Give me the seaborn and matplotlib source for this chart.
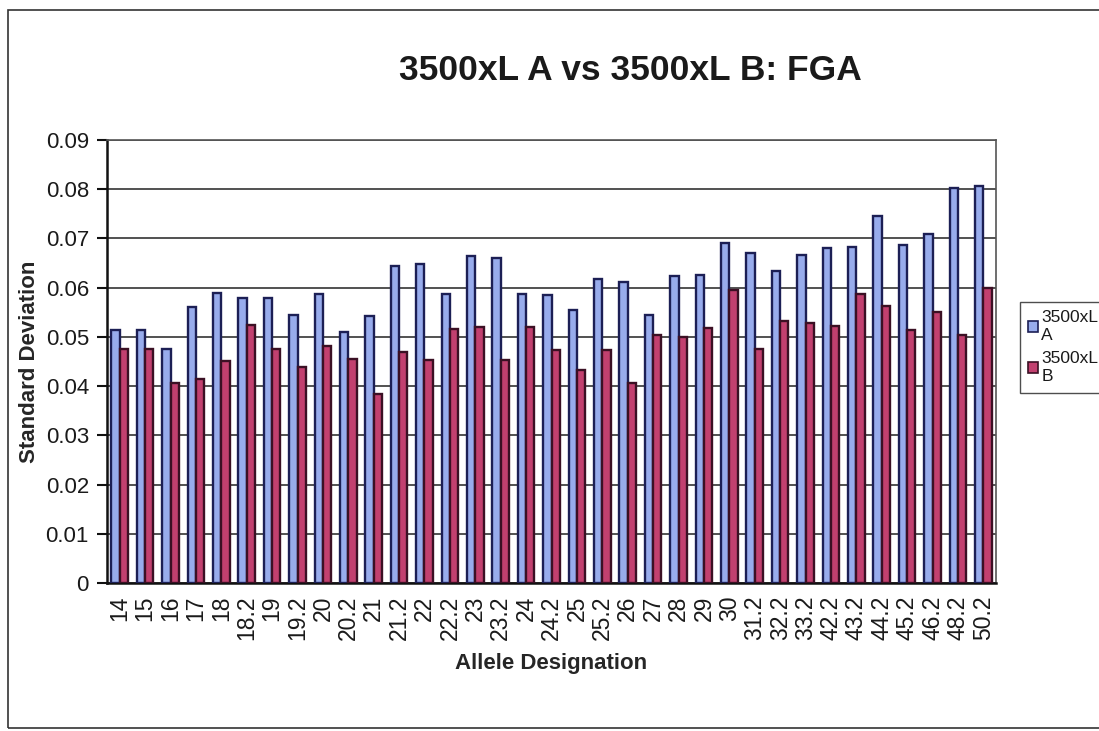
import matplotlib
matplotlib.use("Agg")
import matplotlib.pyplot as plt
import matplotlib.patches as mpatches
import numpy as np
import pandas as pd
import seaborn as sns

# Allele designations (FGA locus)
alleles = ["14", "15", "16", "17", "18", "18.2", "19", "19.2", "20", "20.2",
           "21", "21.2", "22", "22.2", "23", "23.2", "24", "24.2", "25", "25.2",
           "26", "27", "28", "29", "30", "31.2", "32.2", "33.2", "42.2", "43.2",
           "44.2", "45.2", "46.2", "48.2", "50.2"]

# Standard deviation per allele, instrument A
sd_a = [0.0513, 0.0513, 0.0475, 0.0561, 0.0590, 0.0580, 0.0580, 0.0545, 0.0588, 0.0509,
        0.0542, 0.0645, 0.0648, 0.0588, 0.0664, 0.0661, 0.0588, 0.0586, 0.0554, 0.0617,
        0.0612, 0.0544, 0.0623, 0.0625, 0.0691, 0.0671, 0.0633, 0.0666, 0.0680, 0.0682,
        0.0746, 0.0686, 0.0710, 0.0802, 0.0807]

# Standard deviation per allele, instrument B
sd_b = [0.0476, 0.0476, 0.0406, 0.0415, 0.0452, 0.0525, 0.0475, 0.0438, 0.0481, 0.0456,
        0.0384, 0.0469, 0.0454, 0.0517, 0.0520, 0.0454, 0.0520, 0.0474, 0.0433, 0.0474,
        0.0406, 0.0503, 0.0500, 0.0518, 0.0596, 0.0475, 0.0532, 0.0529, 0.0522, 0.0588,
        0.0562, 0.0514, 0.0550, 0.0504, 0.0600]

series_names = ["3500xL A", "3500xL B"]
legend_labels = ["3500xL\nA", "3500xL\nB"]
y_ticks = [0, 0.01, 0.02, 0.03, 0.04, 0.05, 0.06, 0.07, 0.08, 0.09]
y_tick_labels = ["0", "0.01", "0.02", "0.03", "0.04", "0.05", "0.06", "0.07", "0.08", "0.09"]

df = pd.DataFrame({
    "Allele": alleles * 2,
    "SD": sd_a + sd_b,
    "Instrument": [series_names[0]] * len(alleles) + [series_names[1]] * len(alleles),
})

sns.set_style("white")
plt.rcParams["font.family"] = ["Liberation Sans", "DejaVu Sans"]
plt.rcParams["text.color"] = "#1a1a1a"

fill_colors = {series_names[0]: "#98ACEC", series_names[1]: "#C2406F"}
edge_colors = ["#1C1F55", "#3B1024"]

fig = plt.figure(figsize=(10.99, 7.31), dpi=100)
fig.patch.set_facecolor("white")

# outer chart-area frame
fig.add_artist(mpatches.Rectangle((8 / 1099, 3 / 731), 1.2, 1 - 13 / 731,
                                  transform=fig.transFigure, fill=False,
                                  edgecolor="#333333", linewidth=1.2))

ax = fig.add_axes([107 / 1099, 1 - 583 / 731, (996 - 107) / 1099, (583 - 140) / 731])

sns.barplot(data=df, x="Allele", y="SD", hue="Instrument", order=alleles,
            hue_order=series_names, palette=fill_colors, width=0.66,
            linewidth=1.7, ax=ax, legend=False, saturation=1)

# dark outlines per series
for container, ec in zip(ax.containers, edge_colors):
    for bar in container:
        bar.set_edgecolor(ec)
        bar.set_zorder(3)

ax.set_ylim(0, 0.09)
ax.set_xlim(-0.5, len(alleles) - 0.5)
ax.set_yticks(y_ticks)
ax.set_yticklabels(y_tick_labels, fontsize=16, color="#1a1a1a")
ax.yaxis.grid(True, color="#222222", linewidth=1.1, zorder=0)
ax.set_axisbelow(True)

# ticks sit between categories
ax.set_xticks(np.arange(len(alleles)))
ax.set_xticklabels(alleles, rotation=90, fontsize=16.5, color="#1a1a1a")
ax.set_xticks(np.arange(-0.5, len(alleles)), minor=True)
ax.tick_params(axis="x", which="major", length=0, pad=9)
ax.tick_params(axis="x", which="minor", length=6, width=1.5, color="#111111", direction="out")
ax.tick_params(axis="y", which="major", length=7, width=1.5, color="#111111",
               direction="out", left=True, pad=6)

for side in ["left", "bottom"]:
    ax.spines[side].set_color("#111111")
    ax.spines[side].set_linewidth(1.8)
for side in ["top", "right"]:
    ax.spines[side].set_color("#555555")
    ax.spines[side].set_linewidth(1.2)

ax.set_xlabel("Allele Designation", fontsize=16, fontweight="bold", labelpad=9)
ax.set_ylabel("Standard Deviation", fontsize=16, fontweight="bold", labelpad=4)

fig.text(630 / 1099, 1 - 70 / 731, "3500xL A vs 3500xL B: FGA", ha="center", va="center",
         fontsize=25.5, fontweight="bold")

handles = [mpatches.Patch(facecolor=fill_colors[s], edgecolor=ec, linewidth=1.2)
           for s, ec in zip(series_names, edge_colors)]
leg = fig.legend(handles, legend_labels, loc="upper left",
                 bbox_to_anchor=(1011 / 1099, 1 - 293 / 731), frameon=True,
                 fontsize=12.5, handlelength=0.55, handleheight=0.55, handletextpad=0.2,
                 borderpad=0.5, labelspacing=0.5, fancybox=False)
leg.get_frame().set_edgecolor("#222222")
leg.get_frame().set_linewidth(1.0)

fig.savefig("out.png", dpi=100, facecolor="white")
